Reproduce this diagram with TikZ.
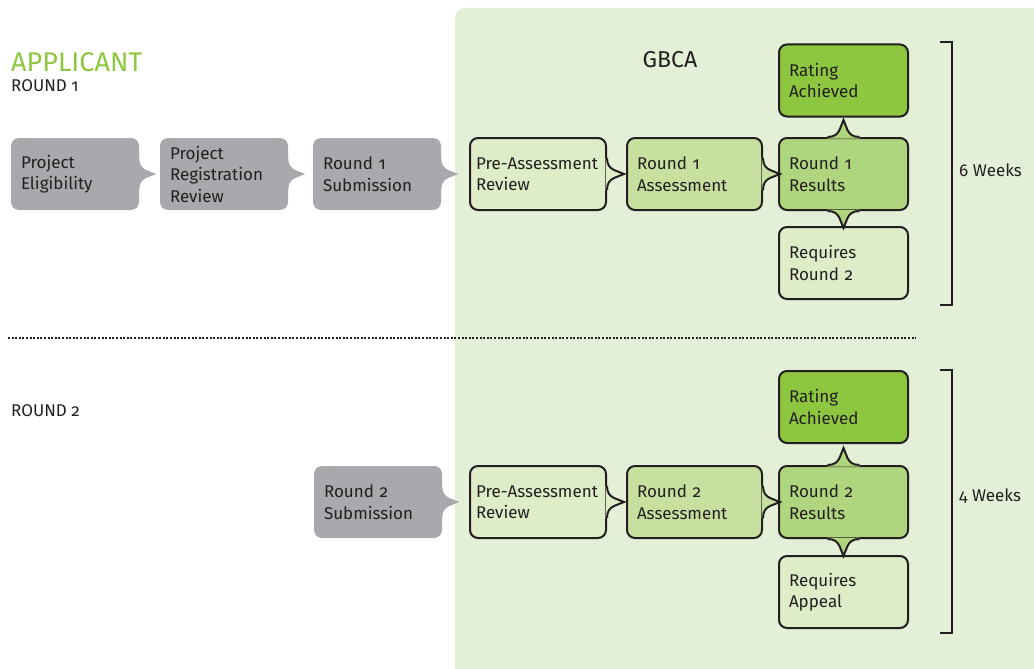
\documentclass[tikz,border=0pt]{standalone}
\usepackage{fontspec}
\setmainfont{Fira Sans}[Numbers=OldStyle]
\usepackage{xcolor}
\usetikzlibrary{positioning, calc}
\definecolor{inkblack}{HTML}{231F20}
\definecolor{boxgrey}{HTML}{A7A9AC}
\definecolor{panelgreen}{HTML}{E3EFD6}
\definecolor{paleg}{HTML}{DFECC8}
\definecolor{midg}{HTML}{C8E09F}
\definecolor{resg}{HTML}{B0D57F}
\definecolor{rateg}{HTML}{8DC63F}
\tikzstyle{every node}=[font=\fontsize{17}{21.5}\selectfont, text=inkblack]
\tikzstyle{greyblock} = [rectangle, fill=boxgrey, rounded corners=8pt, text width=108pt, inner xsep=10pt, minimum height=72pt, align=left]
\tikzstyle{greenblock} = [rectangle, draw=inkblack, line width=2pt, rounded corners=8pt, text width=109pt, inner xsep=10pt, minimum height=72pt, align=left]
\tikzstyle{prebox} = [greenblock, fill=paleg, text width=124pt, inner xsep=6pt]
\tikzstyle{assessbox} = [greenblock, fill=midg, text width=115pt]
\tikzstyle{greentip} = [draw=inkblack, line width=2pt]
\tikzstyle{greytip} = []
\tikzstyle{heading} = [anchor=base west, inner sep=0pt]
% pointer on the side of a block: anchor, angle, fill, outline
\newcommand{\tabtip}[4]{%
  \begin{scope}[shift={(#1)}, rotate=#2, sharp corners]
    \fill[#3] (-1.5,-16) -- (0,-16) .. controls (0,-9) and (3,-6) .. (7,-4) -- (17,0) -- (7,4) .. controls (3,6) and (0,9) .. (0,16) -- (-1.5,16) -- cycle;
    \path[#4] (0,-16) .. controls (0,-9) and (3,-6) .. (7,-4) -- (17,0) -- (7,4) .. controls (3,6) and (0,9) .. (0,16);
  \end{scope}}

\begin{document}
\begin{tikzpicture}[x=1pt, y=-1pt]
    \useasboundingbox (0,0) rectangle (1034,669);
    % GBCA panel
    \fill[panelgreen, rounded corners=10pt] (455,680) -- (455,8) [sharp corners] -- (1040,8) -- (1040,680) -- cycle;
    % Headings
    \node [heading, font=\fontsize{27}{30}\selectfont, text=rateg] (applicant) at (11,72) {APPLICANT};
    \node [heading] (round1) at (11,92) {ROUND 1};
    \node [heading] (round2) at (11,416) {ROUND 2};
    \node [anchor=base, inner sep=0pt, font=\fontsize{23}{26}\selectfont] (gbca) at (670,68) {GBCA};
    % Round 1 nodes
    \node [greyblock] (elig) at (75,174) {Project\\Eligibility};
    \node [greyblock, right of=elig, node distance=149pt] (regreview) {Project\\Registration\\Review};
    \node [greyblock, right of=regreview, node distance=153pt] (sub1) {Round 1\\Submission};
    \node [prebox, right of=sub1, node distance=161pt] (pre1) {Pre-Assessment\\Review};
    \node [assessbox, right of=pre1, node distance=156.5pt] (assess1) {Round 1\\Assessment};
    \node [greenblock, fill=resg, right of=assess1, node distance=149pt] (res1) {Round 1\\Results};
    \node [greenblock, fill=rateg, above of=res1, node distance=93.5pt] (rate1) {Rating\\Achieved};
    \node [greenblock, fill=paleg, below of=res1, node distance=89pt] (req1) {Requires\\Round 2};
    % Round 2 nodes
    \node [greyblock] (sub2) at (378,502) {Round 2\\Submission};
    \node [prebox, right of=sub2, node distance=160pt] (pre2) {Pre-Assessment\\Review};
    \node [assessbox, right of=pre2, node distance=156.5pt] (assess2) {Round 2\\Assessment};
    \node [greenblock, fill=resg, right of=assess2, node distance=149pt] (res2) {Round 2\\Results};
    \node [greenblock, fill=rateg, above of=res2, node distance=95pt] (rate2) {Rating\\Achieved};
    \node [greenblock, fill=paleg, below of=res2, node distance=90pt] (req2) {Requires\\Appeal};
    % Pointers
    \tabtip{elig.east}{0}{boxgrey}{greytip}
    \tabtip{regreview.east}{0}{boxgrey}{greytip}
    \tabtip{sub1.east}{0}{boxgrey}{greytip}
    \tabtip{sub2.east}{0}{boxgrey}{greytip}
    \tabtip{pre1.east}{0}{paleg}{greentip}
    \tabtip{assess1.east}{0}{midg}{greentip}
    \tabtip{res1.north}{90}{resg}{greentip}
    \tabtip{res1.south}{-90}{resg}{greentip}
    \tabtip{pre2.east}{0}{paleg}{greentip}
    \tabtip{assess2.east}{0}{midg}{greentip}
    \tabtip{res2.north}{90}{resg}{greentip}
    \tabtip{res2.south}{-90}{resg}{greentip}
    % Divider
    \draw [inkblack, line width=2pt, dash pattern=on 2pt off 1.6pt] (8,338) -- (916,338);
    % Brackets
    \draw [inkblack, line width=2pt] (940,42) -- (952,42) -- (952,305) -- (940,305);
    \draw [inkblack, line width=2pt] (940,370) -- (952,370) -- (952,633) -- (940,633);
    \node [anchor=west, inner sep=0pt] (weeks6) at (959,170) {6 Weeks};
    \node [anchor=west, inner sep=0pt] (weeks4) at (959,496) {4 Weeks};
\end{tikzpicture}
\end{document}
